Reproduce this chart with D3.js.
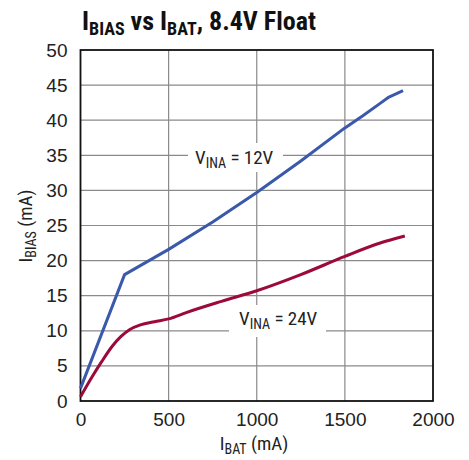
<!DOCTYPE html>
<html><head><meta charset="utf-8">
<script src="https://cdn.jsdelivr.net/npm/d3@7"></script>
<style>
body{margin:0;background:#fff;}
text{font-family:"Liberation Sans Narrow","Arial Narrow","Roboto Condensed",sans-serif;}
</style></head>
<body><svg id="c" width="469" height="460"></svg>
<script>
const xTicks = [0, 500, 1000, 1500, 2000];
const yTicks = [0, 5, 10, 15, 20, 25, 30, 35, 40, 45, 50];
const blueX = [0, 250, 500, 750, 1000, 1250, 1500, 1600, 1700, 1750, 1830];
const blueY = [1.8, 18.0, 21.6, 25.5, 29.7, 34.2, 38.9, 40.6, 42.4, 43.3, 44.2];
const redX = [0, 60, 120, 180, 230, 280, 340, 420, 500, 600, 800, 1000, 1250, 1500, 1700, 1840];
const redY = [0.6, 3.2, 5.6, 7.8, 9.2, 10.2, 10.85, 11.3, 11.7, 12.6, 14.2, 15.7, 18.0, 20.6, 22.5, 23.5];

const svg = d3.select("#c");
const L = 80.5, R = 433, T = 50, B = 401;
const x = d3.scaleLinear().domain([0, 2000]).range([L, R]);
const y = d3.scaleLinear().domain([0, 50]).range([B, T]);

// grid
const g = svg.append("g");
g.selectAll(".hg").data(yTicks.slice(1, -1)).enter().append("line")
  .attr("x1", L).attr("x2", R).attr("y1", d => y(d)).attr("y2", d => y(d))
  .attr("stroke", "#8a8a8a").attr("stroke-width", 1.2);
g.selectAll(".vg").data(xTicks.slice(1, -1)).enter().append("line")
  .attr("y1", T).attr("y2", B).attr("x1", d => x(d)).attr("x2", d => x(d))
  .attr("stroke", "#8a8a8a").attr("stroke-width", 1.2);

// label boxes (white) interrupting grid
svg.append("rect").attr("x", 188).attr("y", 143).attr("width", 95).attr("height", 29).attr("fill", "#fff");
svg.append("rect").attr("x", 229).attr("y", 305).attr("width", 97).attr("height", 32).attr("fill", "#fff");

// frame
svg.append("rect").attr("x", L).attr("y", T).attr("width", R - L).attr("height", B - T)
  .attr("fill", "none").attr("stroke", "#111").attr("stroke-width", 1.8);

// lines
const lineB = d3.line().x(d => x(d[0])).y(d => y(d[1])).curve(d3.curveLinear);
const lineR = d3.line().x(d => x(d[0])).y(d => y(d[1])).curve(d3.curveMonotoneX);
svg.append("path").datum(redX.map((v, i) => [v, redY[i]])).attr("d", lineR)
  .attr("fill", "none").attr("stroke", "#9b0a38").attr("stroke-width", 3).attr("stroke-linejoin", "round");
svg.append("path").datum(blueX.map((v, i) => [v, blueY[i]])).attr("d", lineB)
  .attr("fill", "none").attr("stroke", "#3a59ab").attr("stroke-width", 3).attr("stroke-linejoin", "round");

// axes labels
const xa = svg.append("g").attr("transform", `translate(0,${B})`)
  .call(d3.axisBottom(x).tickValues(xTicks).tickSize(0).tickPadding(12).tickFormat(d3.format("d")));
xa.select(".domain").remove();
xa.selectAll("text").attr("font-size", 19).attr("fill", "#222").attr("dy", "0.71em")
  .style("font-family", "'Liberation Sans Narrow','Arial Narrow',sans-serif");
const ya = svg.append("g").attr("transform", `translate(${L},0)`)
  .call(d3.axisLeft(y).tickValues(yTicks).tickSize(0).tickPadding(13));
ya.select(".domain").remove();
ya.selectAll("text").attr("font-size", 19).attr("fill", "#222")
  .style("font-family", "'Liberation Sans Narrow','Arial Narrow',sans-serif");

// title
const t = svg.append("text").attr("x", 82).attr("y", 30).attr("font-size", 26).attr("font-weight", "bold").attr("fill", "#111");
t.append("tspan").text("I");
t.append("tspan").attr("font-size", 18).attr("dy", 5).text("BIAS");
t.append("tspan").attr("dy", -5).text(" vs I");
t.append("tspan").attr("font-size", 18).attr("dy", 5).text("BAT");
t.append("tspan").attr("dy", -5).text(", 8.4V Float");

// axis titles
const xt = svg.append("text").attr("x", 254).attr("y", 450).attr("text-anchor", "middle").attr("font-size", 19).attr("fill", "#222");
xt.append("tspan").text("I");
xt.append("tspan").attr("font-size", 14).attr("dy", 4).text("BAT");
xt.append("tspan").attr("dy", -4).text(" (mA)");

const yt = svg.append("text").attr("transform", "translate(32,226) rotate(-90)").attr("text-anchor", "middle").attr("font-size", 19).attr("fill", "#222");
yt.append("tspan").text("I");
yt.append("tspan").attr("font-size", 14).attr("dy", 4).text("BIAS");
yt.append("tspan").attr("dy", -4).text(" (mA)");

// series labels
function lab(xp, yp, v) {
  const e = svg.append("text").attr("x", xp).attr("y", yp).attr("font-size", 19).attr("fill", "#222");
  e.append("tspan").text("V");
  e.append("tspan").attr("font-size", 14).attr("dy", 4).text("INA");
  e.append("tspan").attr("dy", -4).text(" = " + v);
}
lab(195, 164, "12V");
lab(239, 325, "24V");
</script></body></html>
